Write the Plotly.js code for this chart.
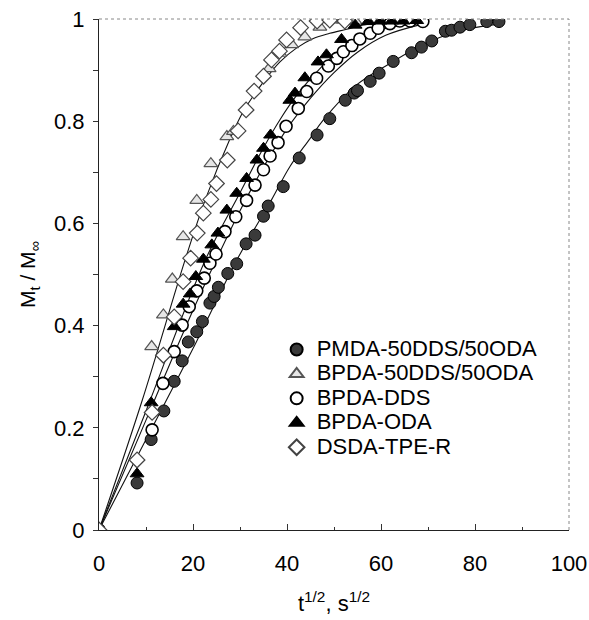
<!DOCTYPE html>
<html>
<head>
<meta charset="utf-8">
<script src="https://cdn.plot.ly/plotly-3.0.1.min.js"></script>
<style>html,body{margin:0;padding:0;background:#fff;}#chart{width:589px;height:620px;}</style>
</head>
<body>
<div id="chart"></div>
<script>
// ---- data ----
const pmdaX = [0, 8.1, 11.1, 13.8, 16, 17.7, 19, 20.8, 22, 23.6, 24.5, 25.4, 27.4, 29.3, 31.3, 33.2, 35, 36, 39.2, 42.6, 46.4, 49.1, 52.4, 54.3, 55.0, 57.7, 59.6, 62.6, 66.5, 68.6, 70.8, 73.7, 75.0, 76.8, 78.9, 82.5, 85.1];
const pmdaY = [0, 0.092, 0.177, 0.233, 0.291, 0.331, 0.368, 0.388, 0.408, 0.444, 0.457, 0.475, 0.502, 0.521, 0.56, 0.577, 0.614, 0.634, 0.672, 0.728, 0.773, 0.805, 0.841, 0.855, 0.86, 0.878, 0.894, 0.917, 0.934, 0.945, 0.957, 0.976, 0.978, 0.984, 0.989, 0.995, 0.995];

const bpdaMixX = [0, 11.2, 13.7, 15.6, 17.9, 20.8, 23.8, 27.2, 28.6, 36.2, 38.5, 41.0, 43.8, 47.0, 49.5, 52.0, 54.5];
const bpdaMixY = [0, 0.359, 0.421, 0.491, 0.574, 0.645, 0.717, 0.770, 0.780, 0.903, 0.933, 0.950, 0.965, 0.984, 0.998, 0.998, 0.996];

const bpdaDdsX = [0, 11.3, 13.6, 16, 17.7, 19.2, 20.8, 22.4, 23.6, 24.9, 26.8, 29.1, 31.4, 33.2, 35, 36.4, 38.1, 39.8, 42.4, 44.2, 46.3, 48.8, 50.6, 52, 53.8, 55.5, 57.7, 59.4, 61.9, 64, 66.2, 68.9];
const bpdaDdsY = [0, 0.196, 0.287, 0.349, 0.401, 0.437, 0.468, 0.493, 0.522, 0.54, 0.584, 0.613, 0.645, 0.675, 0.705, 0.732, 0.758, 0.79, 0.825, 0.858, 0.884, 0.908, 0.923, 0.936, 0.948, 0.961, 0.972, 0.982, 0.991, 0.996, 0.996, 0.995];

const bpdaOdaX = [0, 8.1, 11.1, 16, 17.9, 19.4, 20.6, 22.2, 24, 25.3, 27.2, 29.3, 31.4, 33.6, 35, 36.5, 40.6, 41.7, 43.8, 46.6, 48.4, 51.6, 54.5, 57.3, 59.8, 62.3, 64.7, 67.6];
const bpdaOdaY = [0, 0.11, 0.249, 0.398, 0.442, 0.462, 0.496, 0.53, 0.558, 0.581, 0.626, 0.659, 0.688, 0.724, 0.747, 0.773, 0.841, 0.855, 0.885, 0.916, 0.93, 0.96, 0.988, 0.995, 0.996, 0.996, 0.996, 0.997];

const dsdaX = [0, 8.1, 11.3, 13.7, 16, 17.9, 19.5, 20.9, 22.2, 23.8, 25, 27.3, 29.6, 31.3, 33, 35, 36.7, 38.4, 39.9, 42.9, 46.4, 49.1, 52.3];
const dsdaY = [0, 0.137, 0.23, 0.342, 0.417, 0.486, 0.532, 0.581, 0.62, 0.647, 0.678, 0.724, 0.781, 0.822, 0.859, 0.888, 0.92, 0.937, 0.959, 0.983, 0.996, 0.998, 0.996];

// fitted curves
const fitFastX = [0, 9.2, 18.3, 22.6, 27.9, 30.7, 35, 38.5, 42, 45.6, 49.1, 52.7, 56, 60];
const fitFastY = [0, 0.254, 0.528, 0.646, 0.766, 0.819, 0.877, 0.916, 0.943, 0.962, 0.972, 0.98, 0.988, 0.993];
const fitOdaX = [0, 10, 22.6, 30, 35, 38.5, 42, 45.6, 49.1, 54.1, 61.2, 68.3];
const fitOdaY = [0, 0.233, 0.528, 0.66, 0.748, 0.803, 0.85, 0.889, 0.922, 0.958, 0.982, 0.991];
const fitDdsX = [0, 10, 20, 25, 30, 35, 40, 45, 50, 55, 61, 68];
const fitDdsY = [0, 0.215, 0.43, 0.53, 0.625, 0.71, 0.785, 0.845, 0.895, 0.935, 0.968, 0.988];
const fitPmdaX = [0, 10, 20, 29.3, 36.7, 40.6, 44.9, 47.7, 54.8, 61.9, 69, 76.1, 83.2, 86];
const fitPmdaY = [0, 0.177, 0.355, 0.528, 0.646, 0.711, 0.766, 0.802, 0.871, 0.913, 0.95, 0.975, 0.988, 0.99];

const seriesNames = ['PMDA-50DDS/50ODA', 'BPDA-50DDS/50ODA', 'BPDA-DDS', 'BPDA-ODA', 'DSDA-TPE-R'];

const xTicks = [0, 20, 40, 60, 80, 100];
const yTicks = [0, 0.2, 0.4, 0.6, 0.8, 1];
const yTickText = ['0', '0.2', '0.4', '0.6', '0.8', '1'];

const lineStyle = {color: '#111', width: 1.1, shape: 'spline', smoothing: 1.0};
function fit(x, y) {
  return {x: x, y: y, mode: 'lines', line: lineStyle, showlegend: false, hoverinfo: 'skip'};
}
function lg(name) { return '<span style="font-size:22px">' + name + '</span>'; }

const traces = [
  fit(fitFastX, fitFastY),
  fit(fitOdaX, fitOdaY),
  fit(fitDdsX, fitDdsY),
  fit(fitPmdaX, fitPmdaY),
  {x: pmdaX, y: pmdaY, mode: 'markers', name: lg(seriesNames[0]),
   marker: {symbol: 'circle', size: 12, color: '#3a3a3a', line: {color: '#000', width: 1}}},
  {x: bpdaMixX, y: bpdaMixY, mode: 'markers', name: lg(seriesNames[1]),
   marker: {symbol: 'triangle-up', size: 12, color: '#e6e6e6', line: {color: '#555', width: 1.2}}},
  {x: bpdaDdsX, y: bpdaDdsY, mode: 'markers', name: lg(seriesNames[2]),
   marker: {symbol: 'circle', size: 12, color: '#fff', line: {color: '#000', width: 1.6}}},
  {x: bpdaOdaX, y: bpdaOdaY, mode: 'markers', name: lg(seriesNames[3]),
   marker: {symbol: 'triangle-up', size: 12, color: '#000', line: {color: '#000', width: 1}}},
  {x: dsdaX, y: dsdaY, mode: 'markers', name: lg(seriesNames[4]),
   marker: {symbol: 'diamond', size: 12, color: '#fff', line: {color: '#444', width: 1.2}}}
];

const layout = {
  width: 589, height: 620,
  margin: {l: 99, r: 20, t: 19, b: 90},
  paper_bgcolor: '#fff', plot_bgcolor: '#fff',
  font: {family: 'Liberation Sans, Arial, sans-serif', color: '#000', size: 22},
  showlegend: true,
  legend: {x: 0.378, y: 0.387, xanchor: 'left', yanchor: 'top', bgcolor: 'rgba(0,0,0,0)',
           font: {size: 16.5}, itemwidth: 30, itemsizing: 'constant', tracegroupgap: 0},
  xaxis: {
    range: [0, 100], tickvals: xTicks, ticktext: xTicks.map(String),
    ticks: 'inside', ticklen: 6, tickcolor: '#333', showgrid: false, zeroline: false,
    showline: true, linecolor: '#222', linewidth: 1, ticklabelstandoff: 14,
    tickfont: {size: 22},
    minor: {dtick: 10, ticks: 'inside', ticklen: 3, tickcolor: '#333'},
    title: {text: 't<sup>1/2</sup>, s<sup>1/2</sup>', font: {size: 22}, standoff: 20}
  },
  yaxis: {
    range: [0, 1], tickvals: yTicks, ticktext: yTickText,
    ticks: 'outside', ticklen: 5, tickcolor: '#333', showgrid: false, zeroline: false,
    showline: true, linecolor: '#222', linewidth: 1, ticklabelstandoff: 4,
    tickfont: {size: 22},
    minor: {dtick: 0.1, ticks: 'outside', ticklen: 5, tickcolor: '#333'},
    title: {text: 'M<sub>t</sub> / M<sub>∞</sub>', font: {size: 21}, standoff: 12}
  },
  shapes: [
    {type: 'line', xref: 'paper', yref: 'paper', x0: 0, x1: 1, y0: 1, y1: 1,
     line: {color: '#888', width: 1, dash: 'dot'}},
    {type: 'line', xref: 'paper', yref: 'paper', x0: 1, x1: 1, y0: 0, y1: 1,
     line: {color: '#888', width: 1, dash: 'dot'}}
  ]
};

Plotly.newPlot('chart', traces, layout, {displayModeBar: false, staticPlot: true});
</script>
</body>
</html>
